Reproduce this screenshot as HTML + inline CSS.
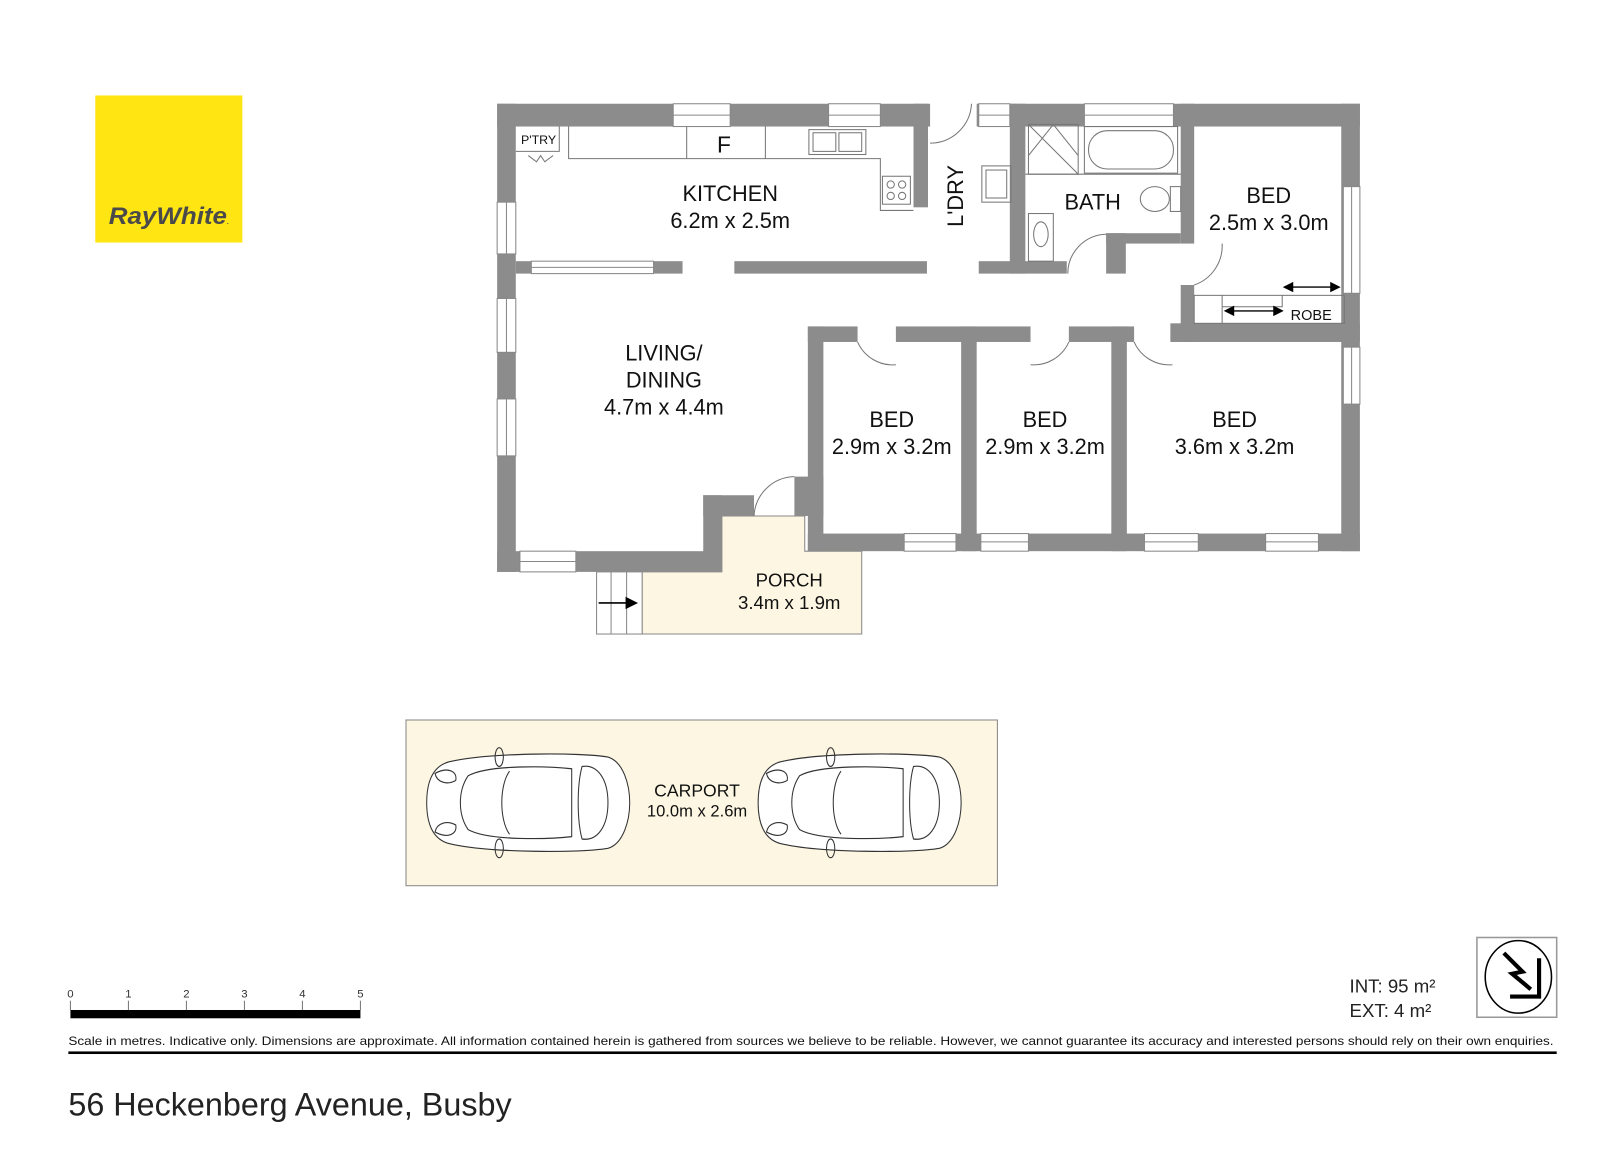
<!DOCTYPE html>
<html><head><meta charset="utf-8"><style>
html,body{margin:0;padding:0;background:#fff;width:1624px;height:1150px;overflow:hidden}
svg{display:block}
text{font-family:"Liberation Sans",sans-serif}
</style></head><body>
<svg width="1624" height="1150" viewBox="0 0 1568 1110" xmlns="http://www.w3.org/2000/svg">
<defs>
<g id="car" fill="none" stroke="#333" stroke-width="1">
  <path d="M22,10 C60,2 150,2 175,6 C190,10 196,30 196,45 C196,60 190,80 175,84 C150,88 60,88 22,80 C4,76 0,60 0,45 C0,30 4,14 22,10 Z" fill="#fff"/>
  <path d="M40,22 C60,12 120,14 140,16 L140,74 C120,76 60,78 40,68 C30,55 30,35 40,22 Z"/>
  <path d="M80,18 C70,30 70,60 80,72"/>
  <path d="M150,14 C165,12 175,25 175,45 C175,65 165,78 150,76 C145,60 145,30 150,14 Z"/>
  <ellipse cx="70" cy="6" rx="4" ry="8"/><ellipse cx="70" cy="84" rx="4" ry="8"/>
  <path d="M8,20 C20,14 30,18 28,26 C20,30 10,28 8,20 Z"/><path d="M8,70 C20,76 30,72 28,64 C20,60 10,62 8,70 Z"/>
</g>
</defs>
<!-- logo -->
<rect x="92" y="92" width="142" height="142" fill="#ffe512"/>
<text x="163" y="216" font-size="23" font-weight="bold" font-style="italic" fill="#4a4a4a" text-anchor="middle" textLength="116" lengthAdjust="spacingAndGlyphs">RayWhite<tspan font-size="6">.</tspan></text>

<!-- porch fill -->
<polygon points="697,498 777,498 777,532 832,532 832,612 620,612 620,552 697,552" fill="#fcf6e2" stroke="#888" stroke-width="1"/>
<rect x="576" y="552" width="44" height="60" fill="#fff" stroke="#888" stroke-width="1"/>
<line x1="590" y1="552" x2="590" y2="612" stroke="#888"/><line x1="605" y1="552" x2="605" y2="612" stroke="#888"/>
<line x1="578" y1="582" x2="606" y2="582" stroke="#000" stroke-width="1.5"/><polygon points="604,576 616,582 604,588" fill="#000"/>

<g fill="#8c8c8d">
<rect x="480" y="100" width="418" height="22"/>
<rect x="943" y="100" width="370" height="22"/>
<rect x="480" y="100" width="18" height="452"/>
<rect x="1295" y="100" width="18" height="432"/>
<rect x="882" y="100" width="14" height="100"/>
<rect x="498" y="252" width="161" height="12"/>
<rect x="709" y="252" width="186" height="12"/>
<rect x="945" y="252" width="85" height="12"/>
<rect x="1068" y="225" width="19" height="39"/>
<rect x="1068" y="225" width="72" height="10"/>
<rect x="975" y="100" width="15" height="164"/>
<rect x="1140" y="100" width="13" height="135"/>
<rect x="1140" y="275" width="13" height="55"/>
<rect x="1130" y="312" width="183" height="18"/>
<rect x="780" y="315" width="48" height="15"/>
<rect x="865" y="315" width="130" height="15"/>
<rect x="1032" y="315" width="63" height="15"/>
<rect x="780" y="315" width="15" height="217"/>
<rect x="928" y="315" width="15" height="217"/>
<rect x="1073" y="315" width="15" height="217"/>
<rect x="780" y="515" width="533" height="17"/>
<rect x="480" y="532" width="217" height="20"/>
<rect x="679" y="478" width="18" height="74"/>
<rect x="679" y="478" width="49" height="20"/>
<rect x="767" y="460" width="28" height="38"/>
</g>

<g fill="#fff" stroke="#888" stroke-width="1">
<rect x="650" y="100" width="55" height="22"/><line x1="650" y1="111" x2="705" y2="111"/>
<rect x="800" y="100" width="50" height="22"/><line x1="800" y1="111" x2="850" y2="111"/>
<rect x="945" y="100" width="30" height="22"/><line x1="945" y1="111" x2="975" y2="111"/>
<rect x="1047" y="100" width="86" height="22"/><line x1="1047" y1="111" x2="1133" y2="111"/>
<rect x="480" y="195" width="18" height="50"/><line x1="489" y1="195" x2="489" y2="245"/>
<rect x="480" y="288" width="18" height="52"/><line x1="489" y1="288" x2="489" y2="340"/>
<rect x="480" y="385" width="18" height="55"/><line x1="489" y1="385" x2="489" y2="440"/>
<rect x="502" y="532" width="54" height="20"/><line x1="502" y1="542" x2="556" y2="542"/>
<rect x="513" y="252" width="118" height="12"/><line x1="513" y1="258" x2="631" y2="258"/>
<rect x="1297" y="180" width="16" height="103"/><line x1="1305" y1="180" x2="1305" y2="283"/>
<rect x="1297" y="335" width="16" height="55"/><line x1="1305" y1="335" x2="1305" y2="390"/>
<rect x="873" y="515" width="50" height="17"/><line x1="873" y1="523" x2="923" y2="523"/>
<rect x="947" y="515" width="46" height="17"/><line x1="947" y1="523" x2="993" y2="523"/>
<rect x="1105" y="515" width="52" height="17"/><line x1="1105" y1="523" x2="1157" y2="523"/>
<rect x="1222" y="515" width="51" height="17"/><line x1="1222" y1="523" x2="1273" y2="523"/>
</g>

<g fill="none" stroke="#777" stroke-width="1">
<path d="M549,122 V153 H850 V203 H882"/>
<line x1="663" y1="122" x2="663" y2="153"/><line x1="739" y1="122" x2="739" y2="153"/>
<rect x="781" y="125" width="55" height="24"/><rect x="785" y="128" width="22" height="18"/><rect x="810" y="128" width="22" height="18"/>
<rect x="852" y="170" width="27" height="27"/><circle cx="860" cy="178" r="3.5"/><circle cx="871" cy="178" r="3.5"/><circle cx="860" cy="189" r="3.5"/><circle cx="871" cy="189" r="3.5"/>
<path d="M498,146 H540 V122"/><path d="M510,150 l8,6 l4,-6 l4,6 l8,-6"/>
<path d="M898,138 A40,40 0 0 0 938,100"/>
<rect x="948" y="160" width="28" height="35"/><rect x="952" y="164" width="20" height="27"/>
<rect x="993" y="120" width="48" height="48"/><path d="M993,120 L1041,168 M1017,120 L993,150 M1017,120 L1041,150"/>
<rect x="1047" y="122" width="90" height="45"/><rect x="1051" y="126" width="82" height="37" rx="18"/>
<line x1="990" y1="168" x2="1140" y2="168"/>
<rect x="993" y="206" width="24" height="46"/><ellipse cx="1005" cy="226" rx="7" ry="12"/>
<ellipse cx="1115" cy="192" rx="14" ry="12"/><rect x="1130" y="180" width="10" height="24"/>
<path d="M1031,264 A38,38 0 0 1 1068,226"/>
<path d="M1153,275 A40,40 0 0 0 1180,235"/>
<path d="M828,330 A37,37 0 0 0 865,352"/>
<path d="M995,352 A37,37 0 0 0 1032,330"/>
<path d="M1095,330 A37,37 0 0 0 1132,352"/>
<path d="M728,498 A40,40 0 0 1 767,460"/>
<rect x="1153" y="285" width="145" height="27"/><line x1="1180" y1="285" x2="1180" y2="312"/><path d="M1180,296 H1238 V285"/>
</g>
<g stroke="#000" stroke-width="1.3" fill="#000">
<line x1="1245" y1="277" x2="1288" y2="277"/><polygon points="1240,277 1248,273 1248,281"/><polygon points="1293,277 1285,273 1285,281"/>
<line x1="1188" y1="300" x2="1233" y2="300"/><polygon points="1183,300 1191,296 1191,304"/><polygon points="1238,300 1230,296 1230,304"/>
</g>

<g fill="#111" text-anchor="middle" font-size="21">
<text x="520" y="139" font-size="12">P'TRY</text>
<text x="699" y="147" font-size="22">F</text>
<text x="705" y="194">KITCHEN</text><text x="705" y="220">6.2m x 2.5m</text>
<text x="0" y="0" transform="translate(930,189) rotate(-90)">L'DRY</text>
<text x="1055" y="202">BATH</text>
<text x="1225" y="196">BED</text><text x="1225" y="222">2.5m x 3.0m</text>
<text x="1266" y="309" font-size="14">ROBE</text>
<text x="641" y="348">LIVING/</text><text x="641" y="374">DINING</text><text x="641" y="400">4.7m x 4.4m</text>
<text x="861" y="412">BED</text><text x="861" y="438">2.9m x 3.2m</text>
<text x="1009" y="412">BED</text><text x="1009" y="438">2.9m x 3.2m</text>
<text x="1192" y="412">BED</text><text x="1192" y="438">3.6m x 3.2m</text>
<text x="762" y="566" font-size="18">PORCH</text><text x="762" y="588" font-size="18">3.4m x 1.9m</text>
</g>

<rect x="392" y="695" width="571" height="160" fill="#fcf6e2" stroke="#888"/>
<use href="#car" transform="translate(412,724) scale(1,1.13)"/>
<use href="#car" transform="translate(732,724) scale(1,1.13)"/>
<text x="673" y="769" font-size="17" text-anchor="middle" fill="#111">CARPORT</text>
<text x="673" y="788" font-size="16" text-anchor="middle" fill="#111">10.0m x 2.6m</text>

<rect x="68" y="975" width="280" height="8" fill="#000"/>
<g stroke="#777" stroke-width="1"><line x1="68" y1="966" x2="68" y2="975"/><line x1="124" y1="966" x2="124" y2="975"/><line x1="180" y1="966" x2="180" y2="975"/><line x1="236" y1="966" x2="236" y2="975"/><line x1="292" y1="966" x2="292" y2="975"/><line x1="348" y1="966" x2="348" y2="975"/></g>
<g font-size="11" fill="#333" text-anchor="middle"><text x="68" y="963">0</text><text x="124" y="963">1</text><text x="180" y="963">2</text><text x="236" y="963">3</text><text x="292" y="963">4</text><text x="348" y="963">5</text></g>

<text x="1303" y="958" font-size="18" fill="#222">INT: 95 m²</text>
<text x="1303" y="982" font-size="18" fill="#222">EXT: 4 m²</text>
<rect x="1426" y="905" width="77" height="77" fill="#fff" stroke="#999" stroke-width="1.5"/>
<ellipse cx="1466" cy="943" rx="32" ry="35" fill="none" stroke="#000" stroke-width="1.5"/>
<path d="M1452,920 L1470,938 L1460,940 L1478,955" fill="none" stroke="#000" stroke-width="4"/>
<path d="M1486,925 L1486,962 L1458,962" fill="none" stroke="#000" stroke-width="4"/>

<text x="66" y="1009" font-size="11.3" fill="#111" textLength="1434" lengthAdjust="spacingAndGlyphs">Scale in metres. Indicative only. Dimensions are approximate. All information contained herein is gathered from sources we believe to be reliable. However, we cannot guarantee its accuracy and interested persons should rely on their own enquiries.</text>
<rect x="66" y="1015" width="1437" height="2.5" fill="#000"/>
<text x="66" y="1077" font-size="31" fill="#222" textLength="428" lengthAdjust="spacingAndGlyphs">56 Heckenberg Avenue, Busby</text>
</svg>
</body></html>
